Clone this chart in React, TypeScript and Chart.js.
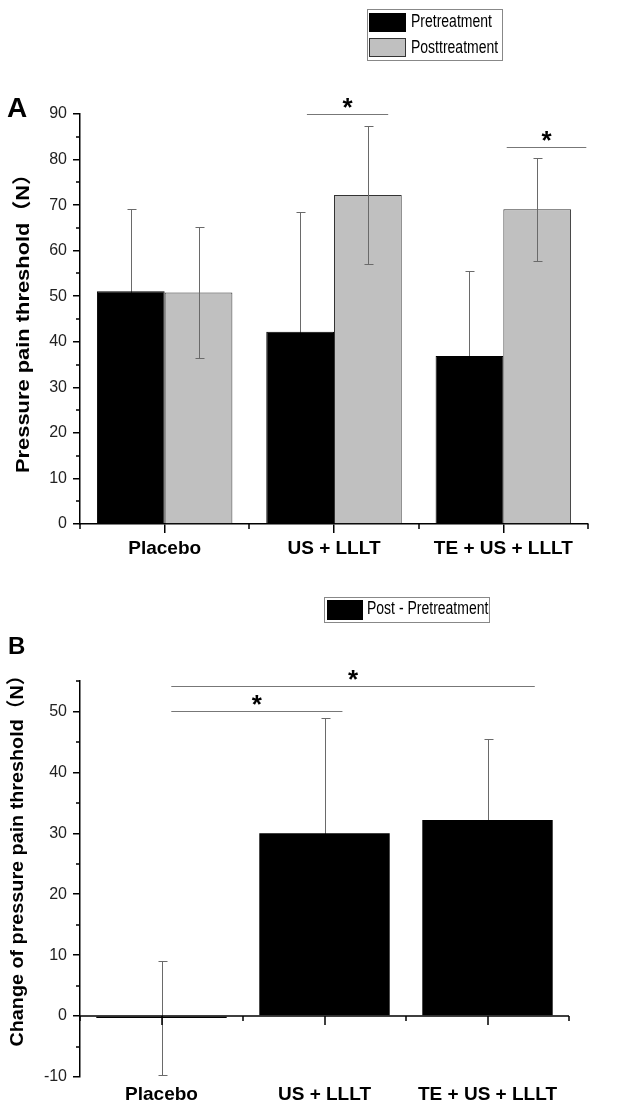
import React, { useEffect, useRef } from 'react';
import { Chart, registerables } from 'chart.js';

Chart.register(...registerables);

const FONT = "'Liberation Sans', Arial, Helvetica, 'Noto Sans CJK SC', sans-serif";
Chart.defaults.font.family = FONT;

// ---------- data ----------
const groups = ['Placebo', 'US + LLLT', 'TE + US + LLLT'];

// Panel A
const preMeans = [51.1, 42.2, 36.9];
const preSD = [18.0, 26.2, 18.6];
const postMeans = [50.8, 72.2, 69.1];
const postSD = [14.4, 15.1, 11.3];
const yRangeA = [0, 90];
const yStepA = 10;
const yMinorA = 5;
// significance brackets (x in category-index units, y in data units)
const sigFromA = [0.84, 2.02];
const sigToA = [1.32, 2.49];
const sigLevelA = [90, 82.7];

// Panel B
const changeMeans = [-0.3, 30.0, 32.2];
const changeSD = [9.4, 19.0, 13.2];
const yRangeB = [-10, 55];
const yStepB = 10;
const yMinorB = 5;
const sigFromB = [0.06, 0.06];
const sigToB = [1.11, 2.29];
const sigLevelB = [50.1, 54.2];

// ---------- helpers ----------
function crisp(v: number) {
  return Math.round(v) + 0.5;
}

function drawErrors(chart: any, errors: number[][], overlay: boolean[], when: boolean) {
  const ctx = chart.ctx;
  const ys = chart.scales.y;
  errors.forEach((errs, di) => {
    if (!!overlay[di] !== when) return;
    const meta = chart.getDatasetMeta(di);
    const means = chart.data.datasets[di].data as number[];
    meta.data.forEach((el: any, i: number) => {
      const x = crisp(el.x);
      const m = means[i];
      const e = errs[i];
      const yt = crisp(ys.getPixelForValue(m + e));
      const yb = crisp(ys.getPixelForValue(m - e));
      ctx.save();
      ctx.strokeStyle = '#6a6a6a';
      ctx.lineWidth = 1;
      ctx.beginPath();
      ctx.moveTo(x, yt);
      ctx.lineTo(x, yb);
      ctx.moveTo(x - 4, yt);
      ctx.lineTo(x + 5, yt);
      ctx.moveTo(x - 4, yb);
      ctx.lineTo(x + 5, yb);
      ctx.stroke();
      ctx.restore();
    });
  });
}

function drawMinorY(chart: any, minor: number, major: number) {
  const ctx = chart.ctx;
  const ys = chart.scales.y;
  const left = chart.chartArea.left;
  ctx.save();
  ctx.strokeStyle = '#000';
  ctx.lineWidth = 1.5;
  ctx.beginPath();
  for (let v = ys.min; v <= ys.max + 1e-9; v += minor) {
    if (Math.abs(v % major) < 1e-6) continue;
    const y = Math.round(ys.getPixelForValue(v));
    ctx.moveTo(left - 4, y);
    ctx.lineTo(left, y);
  }
  ctx.stroke();
  ctx.restore();
}

function drawCategoryBoundaryTicks(chart: any, axisY: number, len: number) {
  const ctx = chart.ctx;
  const xs = chart.scales.x;
  const n = chart.data.labels.length;
  ctx.save();
  ctx.strokeStyle = '#000';
  ctx.lineWidth = 1.5;
  ctx.beginPath();
  for (let i = 0; i <= n; i++) {
    const x = Math.round(xs.getPixelForValue(i - 0.5));
    ctx.moveTo(x, axisY);
    ctx.lineTo(x, axisY + len);
  }
  ctx.stroke();
  ctx.restore();
}

function drawBrackets(chart: any, from: number[], to: number[], level: number[]) {
  const ctx = chart.ctx;
  const xs = chart.scales.x;
  const ys = chart.scales.y;
  from.forEach((f, k) => {
    const x0 = xs.getPixelForValue(f);
    const x1 = xs.getPixelForValue(to[k]);
    const y = crisp(ys.getPixelForValue(level[k]));
    ctx.save();
    ctx.strokeStyle = '#777';
    ctx.lineWidth = 1.2;
    ctx.beginPath();
    ctx.moveTo(x0, y);
    ctx.lineTo(x1, y);
    ctx.stroke();
    // star
    ctx.font = `bold 26px ${FONT}`;
    ctx.fillStyle = '#000';
    ctx.textAlign = 'center';
    ctx.textBaseline = 'alphabetic';
    const m = ctx.measureText('*');
    const cy = y - 12;
    const base = cy - (m.actualBoundingBoxDescent - m.actualBoundingBoxAscent) / 2;
    ctx.fillText('*', (x0 + x1) / 2, base);
    ctx.restore();
  });
}

function drawYTitle(ctx: CanvasRenderingContext2D, text: string, cx: number, cy: number, len: number) {
  ctx.save();
  ctx.font = `bold 19px ${FONT}`;
  const w = ctx.measureText(text).width;
  ctx.translate(cx, cy);
  ctx.rotate(-Math.PI / 2);
  ctx.scale(len / w, 1);
  ctx.textAlign = 'center';
  ctx.textBaseline = 'middle';
  ctx.fillStyle = '#000';
  ctx.fillText(text, 0, 0);
  ctx.restore();
}

function drawLetter(ctx: CanvasRenderingContext2D, text: string, x: number, y: number, size: number) {
  ctx.save();
  ctx.font = `bold ${size}px ${FONT}`;
  ctx.fillStyle = '#000';
  ctx.textAlign = 'left';
  ctx.textBaseline = 'alphabetic';
  ctx.fillText(text, x, y);
  ctx.restore();
}

type LegendItem = { label: string; fill: string; stroke: string; sx: number; sy: number; sw: number; sh: number; tx: number; ty: number };

function drawLegendBox(ctx: CanvasRenderingContext2D, box: number[], items: LegendItem[]) {
  ctx.save();
  ctx.strokeStyle = '#888';
  ctx.lineWidth = 1;
  ctx.strokeRect(box[0] + 0.5, box[1] + 0.5, box[2], box[3]);
  items.forEach((it) => {
    ctx.fillStyle = it.fill;
    ctx.fillRect(it.sx, it.sy, it.sw, it.sh);
    ctx.strokeStyle = it.stroke;
    ctx.strokeRect(it.sx + 0.5, it.sy + 0.5, it.sw - 1, it.sh - 1);
    ctx.save();
    ctx.translate(it.tx, it.ty);
    ctx.scale(1, 1.25);
    ctx.font = `14px ${FONT}`;
    ctx.fillStyle = '#000';
    ctx.textAlign = 'left';
    ctx.textBaseline = 'middle';
    ctx.fillText(it.label, 0, 0);
    ctx.restore();
  });
  ctx.restore();
}

// ---------- configs ----------
function configA(): any {
  const decor = {
    id: 'decorA',
    beforeDatasetsDraw(chart: any) {
      drawErrors(chart, [preSD, postSD], [false, true], false);
    },
    afterDatasetsDraw(chart: any) {
      drawErrors(chart, [preSD, postSD], [false, true], true);
    },
    afterDraw(chart: any) {
      const ctx = chart.ctx;
      drawMinorY(chart, yMinorA, yStepA);
      drawCategoryBoundaryTicks(chart, Math.round(chart.chartArea.bottom), 5);
      drawBrackets(chart, sigFromA, sigToA, sigLevelA);
      drawYTitle(ctx, 'Pressure pain threshold（N）', 24, 318, 310);
      drawLetter(ctx, 'A', 7, 117, 28);
      drawLegendBox(ctx, [367, 9, 135, 51], [
        { label: 'Pretreatment', fill: '#000', stroke: '#000', sx: 369, sy: 13, sw: 37, sh: 19, tx: 411, ty: 22.5 },
        { label: 'Posttreatment', fill: '#c0c0c0', stroke: '#333', sx: 369, sy: 38, sw: 37, sh: 19, tx: 411, ty: 48 },
      ]);
    },
  };
  return {
    type: 'bar',
    data: {
      labels: groups,
      datasets: [
        { label: 'Pretreatment', data: preMeans, backgroundColor: '#000', borderColor: '#000', borderWidth: 1, barPercentage: 1, categoryPercentage: 0.8 },
        { label: 'Posttreatment', data: postMeans, backgroundColor: '#c0c0c0', borderColor: '#333', borderWidth: 1, barPercentage: 1, categoryPercentage: 0.8 },
      ],
    },
    options: {
      responsive: false,
      animation: false,
      devicePixelRatio: 1,
      layout: { padding: { left: 0, right: 50, top: 114, bottom: 0 } },
      plugins: { legend: { display: false }, tooltip: { enabled: false }, title: { display: false } },
      scales: {
        x: {
          grid: { display: true, drawOnChartArea: false, offset: false, drawTicks: true, tickLength: 9, color: '#000', lineWidth: 1.5 },
          border: { display: true, color: '#000', width: 1.5 },
          ticks: { font: { size: 19, weight: 'bold' }, color: '#000', padding: 4, maxRotation: 0, autoSkip: false },
          afterFit: (s: any) => { s.height = 46; },
        },
        y: {
          min: yRangeA[0],
          max: yRangeA[1],
          ticks: { stepSize: yStepA, font: { size: 16 }, color: '#222', padding: 6 },
          grid: { display: true, drawOnChartArea: false, drawTicks: true, tickLength: 7, color: '#000', lineWidth: 1.5 },
          border: { display: true, color: '#000', width: 1.5 },
          afterFit: (s: any) => { s.width = 80; },
        },
      },
    },
    plugins: [decor],
  };
}

function configB(): any {
  const decor = {
    id: 'decorB',
    beforeDatasetsDraw(chart: any) {
      drawErrors(chart, [changeSD], [false], false);
    },
    afterDraw(chart: any) {
      const ctx = chart.ctx;
      const xs = chart.scales.x;
      const ys = chart.scales.y;
      const zeroY = Math.round(ys.getPixelForValue(0));
      // zero axis line with ticks
      ctx.save();
      ctx.strokeStyle = '#000';
      ctx.lineWidth = 1.5;
      ctx.beginPath();
      ctx.moveTo(chart.chartArea.left, zeroY);
      ctx.lineTo(chart.chartArea.right, zeroY);
      for (let i = 0; i < chart.data.labels.length; i++) {
        const x = Math.round(xs.getPixelForValue(i));
        ctx.moveTo(x, zeroY);
        ctx.lineTo(x, zeroY + 9);
      }
      ctx.stroke();
      ctx.restore();
      drawCategoryBoundaryTicks(chart, zeroY, 5);
      drawMinorY(chart, yMinorB, yStepB);
      drawBrackets(chart, sigFromB, sigToB, sigLevelB);
      drawYTitle(ctx, 'Change of pressure pain threshold（N）', 18, 286, 381);
      drawLetter(ctx, 'B', 8, 84, 24);
      drawLegendBox(ctx, [324, 27, 165, 25], [
        { label: 'Post - Pretreatment', fill: '#000', stroke: '#000', sx: 327, sy: 30, sw: 36, sh: 20, tx: 367, ty: 39.5 },
      ]);
    },
  };
  return {
    type: 'bar',
    data: {
      labels: groups,
      datasets: [
        { label: 'Post - Pretreatment', data: changeMeans, backgroundColor: '#000', borderColor: '#000', borderWidth: 0, barPercentage: 1, categoryPercentage: 0.8 },
      ],
    },
    options: {
      responsive: false,
      animation: false,
      devicePixelRatio: 1,
      layout: { padding: { left: 0, right: 69, top: 111, bottom: 0 } },
      plugins: { legend: { display: false }, tooltip: { enabled: false }, title: { display: false } },
      scales: {
        x: {
          grid: { display: false, drawTicks: false },
          border: { display: false },
          ticks: { font: { size: 19, weight: 'bold' }, color: '#000', padding: 6, maxRotation: 0, autoSkip: false },
          afterFit: (s: any) => { s.height = 29; },
        },
        y: {
          min: yRangeB[0],
          max: yRangeB[1],
          ticks: { stepSize: yStepB, font: { size: 16 }, color: '#222', padding: 6 },
          afterBuildTicks: (s: any) => { s.ticks = s.ticks.filter((t: any) => Math.abs(t.value % yStepB) < 1e-6); },
          grid: { display: true, drawOnChartArea: false, drawTicks: true, tickLength: 7, color: '#000', lineWidth: 1.5 },
          border: { display: true, color: '#000', width: 1.5 },
          afterFit: (s: any) => { s.width = 80; },
        },
      },
    },
    plugins: [decor],
  };
}

export default function App() {
  const refA = useRef<HTMLCanvasElement>(null);
  const refB = useRef<HTMLCanvasElement>(null);
  useEffect(() => {
    const a = new Chart(refA.current as HTMLCanvasElement, configA());
    const b = new Chart(refB.current as HTMLCanvasElement, configB());
    return () => {
      a.destroy();
      b.destroy();
    };
  }, []);
  return (
    <div style={{ position: 'absolute', left: 0, top: 0, width: 638, height: 1106, background: '#fff' }}>
      <canvas ref={refA} width={638} height={570} style={{ display: 'block', width: 638, height: 570 }} />
      <canvas ref={refB} width={638} height={536} style={{ display: 'block', width: 638, height: 536 }} />
    </div>
  );
}
